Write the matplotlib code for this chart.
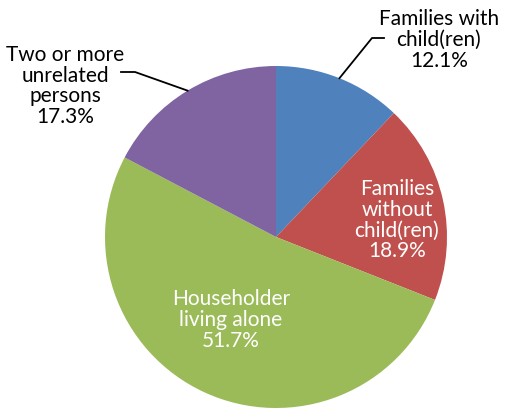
import numpy as np
import matplotlib
matplotlib.use("Agg")
import matplotlib.pyplot as plt

categories = ["Families with\nchild(ren)", "Families\nwithout\nchild(ren)",
              "Householder\nliving alone", "Two or more\nunrelated\npersons"]
shares = [12.1, 18.9, 51.7, 17.3]
colors = ["#4F81BD", "#C0504D", "#9BBB59", "#8064A2"]

plt.rcParams["font.family"] = ["Lato", "DejaVu Sans"]

fig = plt.figure(figsize=(5.06, 4.10), dpi=100)
ax = fig.add_axes([0, 0, 1, 1])

cx, cy, r = 276, 172, 171
ax.pie(shares, colors=colors, startangle=90, counterclock=False,
       center=(cx, cy), radius=r, frame=True)
ax.set_xlim(0, 506)
ax.set_ylim(0, 410)
ax.set_aspect("equal")
ax.axis("off")

labels = [f"{c}\n{v:.1f}%" for c, v in zip(categories, shares)]
fs = 15
ls = 1.05

# angle of each wedge's middle, for the leader lines
start = 90.0
mids = []
for v in shares:
    mids.append(np.deg2rad(start - v * 3.6 / 2))
    start -= v * 3.6

def edge(a):
    return cx + r * np.cos(a), cy + r * np.sin(a)

ex, ey = edge(mids[0])
ax.plot([ex, 372, 384], [ey, 371, 371], color="black", lw=1.3)
ax.text(439, 370, labels[0], ha="center", va="center", fontsize=fs,
        linespacing=ls, color="black")

ex, ey = edge(mids[3])
ax.plot([ex, 135, 121], [ey, 337, 337], color="black", lw=1.3)
ax.text(65, 324, labels[3], ha="center", va="center", fontsize=fs,
        linespacing=ls, color="black")

# labels inside the larger wedges
ax.text(397, 190, labels[1], ha="center", va="center", fontsize=fs,
        linespacing=ls, color="white")
ax.text(231, 90, labels[2], ha="center", va="center", fontsize=fs,
        linespacing=ls, color="white")

fig.savefig("out.png", dpi=100)
